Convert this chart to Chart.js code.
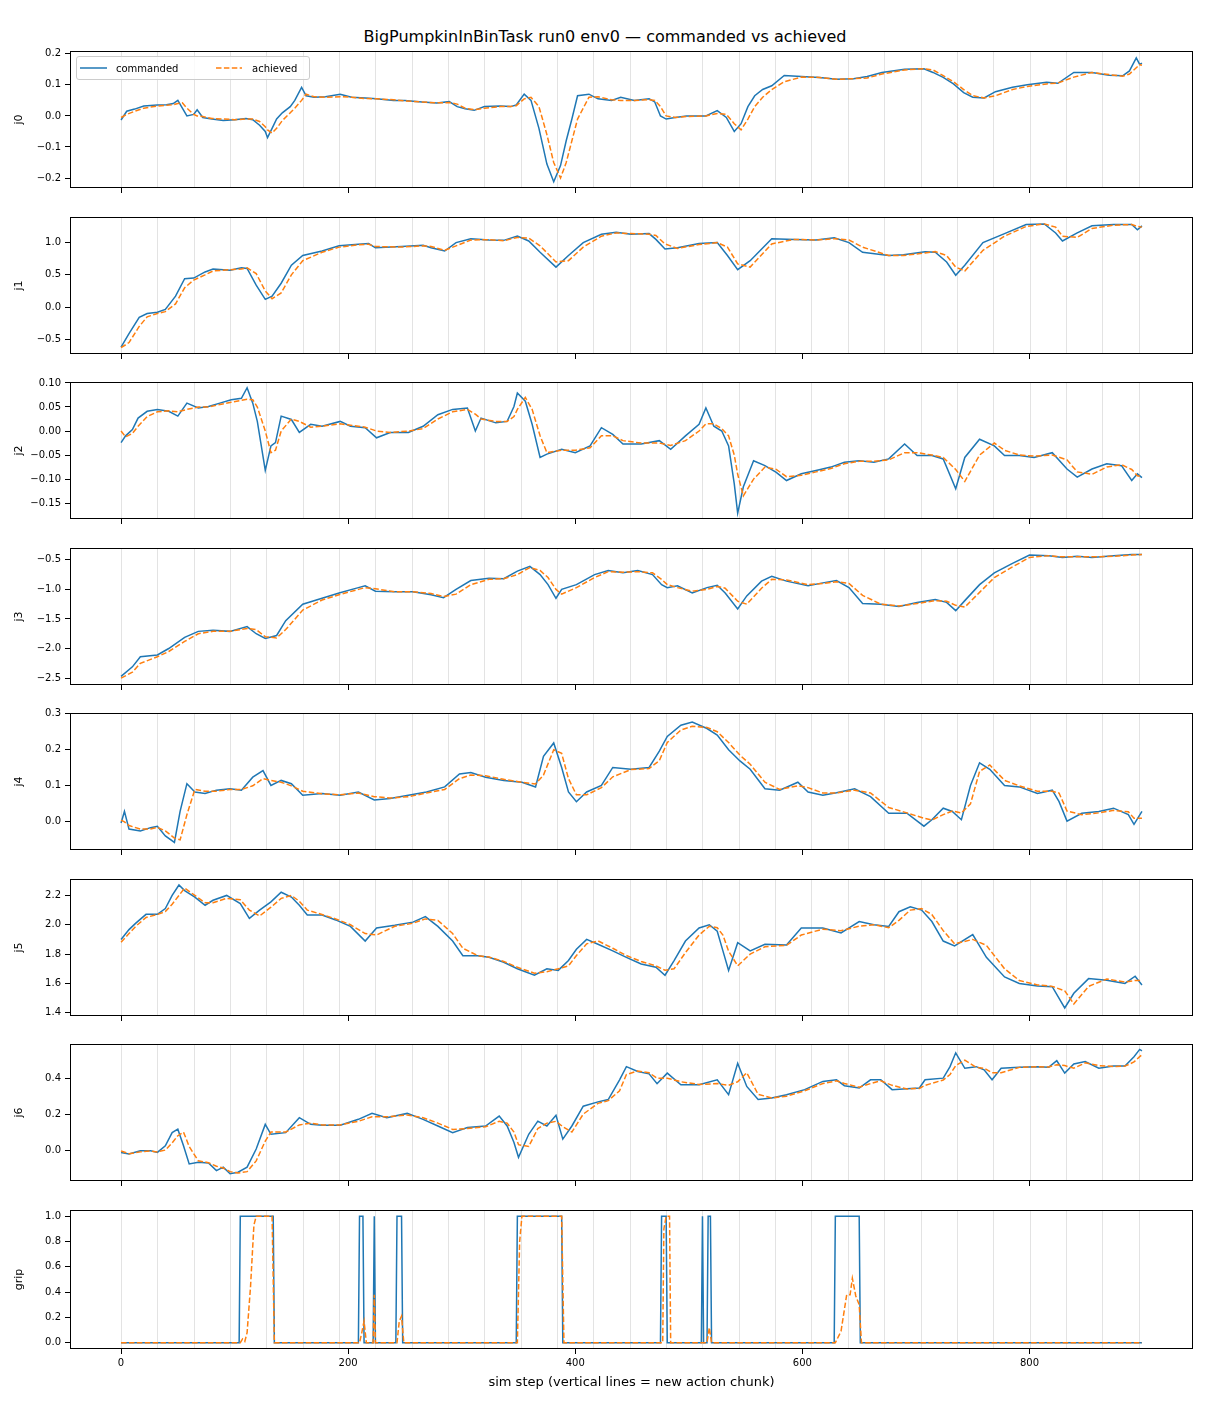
<!doctype html>
<html>
<head>
<meta charset="utf-8">
<title>BigPumpkinInBinTask run0 env0 — commanded vs achieved</title>
<script src="https://cdn.jsdelivr.net/npm/chart.js@4.4.1/dist/chart.umd.min.js"></script>
<style>
  body { margin: 0; background: #fff; width: 1210px; height: 1408px; position: relative; overflow: hidden; font-family: "DejaVu Sans", sans-serif; color: #000; }
  #title { position: absolute; top: 27px; left: 0; width: 1210px; text-align: center; font-size: 16px; line-height: 20px; }
  .panel { position: absolute; left: 0; width: 1210px; }
  .panel canvas { display: block; }
  #legend { position: absolute; left: 76px; top: 56px; width: 234px; height: 24px; box-sizing: border-box; border: 1px solid #cccccc; border-radius: 3px; background: rgba(255,255,255,0.8); z-index: 5; font-size: 10px; }
  #legend svg, #legend span { position: absolute; }
  #legend span { top: 5px; line-height: 13px; }
</style>
</head>
<body>
<div id="title">BigPumpkinInBinTask run0 env0 — commanded vs achieved</div>
<div id="legend">
  <svg style="left:3px;top:6px" width="28" height="10"><line x1="0" y1="5" x2="27" y2="5" stroke="#1f77b4" stroke-width="1.5"/></svg>
  <span style="left:39px">commanded</span>
  <svg style="left:139px;top:6px" width="28" height="10"><line x1="0" y1="5" x2="26" y2="5" stroke="#ff7f0e" stroke-width="1.5" stroke-dasharray="5.5,2.4"/></svg>
  <span style="left:175px">achieved</span>
</div>
<script>
// ---- data ----
const chunkStarts = [0,32,64,96,128,160,192,224,256,288,320,352,384,416,448,480,512,544,576,608,640,672,704,736,768,800,832,864,896];
const xTicks = [0,200,400,600,800];

const j0Steps = [0,5,12,20,32,40,46,50,54,58,64,67,72,80,90,100,110,116,122,127,129,133,137,142,149,153,159,163,170,180,193,203,215,225,240,250,265,278,289,296,303,311,320,334,343,348,355,361,368,375,381,387,392,397,402,412,420,432,440,452,465,470,475,480,488,498,515,525,533,540,546,552,558,565,573,584,599,615,630,645,657,670,690,707,715,724,733,742,750,760,770,785,798,815,825,839,855,870,882,888,894,897,899];
const j0Cmd = [-0.013,0.015,0.022,0.032,0.035,0.036,0.04,0.05,0.025,0.0,0.005,0.02,-0.005,-0.01,-0.015,-0.012,-0.008,-0.012,-0.03,-0.05,-0.07,-0.04,-0.01,0.01,0.03,0.05,0.092,0.065,0.06,0.062,0.07,0.06,0.058,0.055,0.05,0.05,0.045,0.042,0.046,0.03,0.023,0.018,0.03,0.032,0.03,0.035,0.07,0.05,-0.04,-0.155,-0.212,-0.16,-0.08,-0.01,0.065,0.07,0.055,0.05,0.06,0.05,0.055,0.045,0.0,-0.01,-0.005,0.0,0.0,0.017,-0.005,-0.05,-0.025,0.03,0.065,0.085,0.097,0.13,0.127,0.124,0.118,0.12,0.127,0.14,0.15,0.152,0.14,0.124,0.103,0.075,0.06,0.058,0.078,0.092,0.1,0.108,0.105,0.14,0.14,0.131,0.129,0.145,0.187,0.166,0.17];
const j0Ach = [-0.005,0.005,0.015,0.025,0.032,0.034,0.036,0.04,0.042,0.025,0.005,0.0,-0.002,-0.008,-0.01,-0.012,-0.01,-0.01,-0.018,-0.035,-0.045,-0.055,-0.04,-0.015,0.01,0.025,0.05,0.07,0.062,0.06,0.062,0.06,0.056,0.055,0.052,0.048,0.045,0.042,0.043,0.038,0.025,0.02,0.025,0.03,0.03,0.033,0.055,0.06,0.03,-0.06,-0.15,-0.2,-0.15,-0.08,-0.01,0.06,0.062,0.052,0.05,0.05,0.052,0.05,0.03,0.0,-0.005,-0.002,0.0,0.008,0.005,-0.025,-0.045,-0.01,0.03,0.06,0.085,0.11,0.125,0.124,0.118,0.12,0.122,0.135,0.148,0.152,0.148,0.13,0.11,0.085,0.065,0.058,0.065,0.085,0.095,0.103,0.106,0.125,0.14,0.133,0.128,0.135,0.155,0.165,0.163];

const j1Steps = [0,7,16,23,32,39,48,56,64,74,81,96,106,111,119,127,133,141,150,160,177,192,209,218,224,247,266,273,285,295,308,324,337,349,359,369,383,394,407,423,436,449,465,471,479,490,509,525,534,543,554,573,593,612,628,641,653,676,689,708,717,727,735,743,759,778,797,813,823,829,842,855,874,890,895,899];
const j1Cmd = [-0.62,-0.41,-0.16,-0.10,-0.08,-0.035,0.17,0.44,0.45,0.545,0.59,0.57,0.61,0.60,0.34,0.12,0.17,0.37,0.65,0.80,0.87,0.95,0.975,0.985,0.92,0.94,0.96,0.92,0.87,1.0,1.06,1.04,1.035,1.10,1.025,0.85,0.62,0.80,1.0,1.13,1.16,1.13,1.14,1.05,0.90,0.92,0.985,1.0,0.80,0.58,0.72,1.06,1.05,1.04,1.075,1.0,0.85,0.80,0.81,0.86,0.85,0.70,0.495,0.65,1.0,1.14,1.28,1.29,1.15,1.025,1.15,1.26,1.28,1.28,1.20,1.26];
const j1Ach = [-0.63,-0.55,-0.3,-0.15,-0.1,-0.07,0.05,0.3,0.42,0.5,0.56,0.58,0.59,0.61,0.52,0.25,0.13,0.22,0.5,0.72,0.85,0.93,0.965,0.975,0.94,0.93,0.95,0.94,0.88,0.95,1.04,1.045,1.03,1.08,1.07,0.95,0.70,0.72,0.93,1.1,1.15,1.14,1.13,1.11,0.98,0.91,0.97,1.0,0.93,0.67,0.62,0.98,1.05,1.04,1.06,1.04,0.93,0.80,0.80,0.84,0.86,0.80,0.62,0.56,0.88,1.10,1.25,1.29,1.24,1.1,1.08,1.22,1.27,1.28,1.25,1.24];

const j2Steps = [0,4,10,15,23,32,42,50,58,68,77,87,97,106,111,116,120,127,132,136,141,150,157,167,177,193,202,215,225,237,253,266,279,292,305,312,317,330,340,346,349,356,362,369,375,388,400,413,423,433,442,458,474,484,497,509,515,522,529,535,540,543,548,557,567,577,586,599,612,625,637,650,663,676,690,701,714,724,735,743,756,769,778,791,804,820,833,842,855,868,881,890,895,899];
const j2Cmd = [-0.024,-0.01,0.003,0.027,0.041,0.045,0.041,0.031,0.058,0.048,0.051,0.058,0.065,0.068,0.09,0.058,0.02,-0.082,-0.031,-0.024,0.031,0.024,-0.003,0.014,0.01,0.02,0.01,0.007,-0.014,-0.003,-0.003,0.01,0.034,0.045,0.048,0.0,0.027,0.017,0.02,0.051,0.079,0.062,0.014,-0.055,-0.048,-0.038,-0.045,-0.031,0.007,-0.007,-0.027,-0.027,-0.02,-0.038,-0.01,0.014,0.048,0.01,0.0,-0.031,-0.11,-0.171,-0.116,-0.062,-0.072,-0.086,-0.103,-0.089,-0.082,-0.075,-0.065,-0.062,-0.065,-0.058,-0.027,-0.051,-0.051,-0.058,-0.12,-0.055,-0.017,-0.031,-0.051,-0.051,-0.055,-0.045,-0.079,-0.096,-0.079,-0.068,-0.072,-0.103,-0.089,-0.097];
const j2Ach = [0.0,-0.012,-0.005,0.01,0.03,0.04,0.042,0.04,0.045,0.05,0.05,0.055,0.06,0.064,0.066,0.065,0.05,0.0,-0.045,-0.04,0.0,0.025,0.02,0.008,0.01,0.015,0.012,0.008,0.0,-0.003,0.0,0.005,0.025,0.04,0.045,0.035,0.025,0.02,0.02,0.03,0.045,0.07,0.045,-0.01,-0.045,-0.04,-0.04,-0.035,-0.01,-0.01,-0.02,-0.025,-0.025,-0.03,-0.02,0.0,0.015,0.015,0.005,-0.01,-0.05,-0.09,-0.135,-0.1,-0.075,-0.08,-0.095,-0.092,-0.085,-0.078,-0.068,-0.063,-0.063,-0.06,-0.045,-0.045,-0.05,-0.055,-0.08,-0.105,-0.05,-0.025,-0.04,-0.05,-0.052,-0.05,-0.06,-0.085,-0.09,-0.075,-0.07,-0.08,-0.093,-0.095];

const j3Steps = [0,10,17,32,42,56,68,81,96,111,119,127,137,145,160,177,192,209,215,224,241,257,273,284,295,308,324,337,349,360,369,376,383,388,401,417,429,442,455,468,476,481,490,503,516,525,532,543,551,564,573,586,605,618,630,641,653,669,685,701,717,727,735,743,756,769,785,800,817,829,842,855,874,890,899];
const j3Cmd = [-2.47,-2.31,-2.14,-2.11,-2.0,-1.81,-1.71,-1.69,-1.71,-1.63,-1.75,-1.83,-1.78,-1.53,-1.25,-1.15,-1.06,-0.97,-0.94,-1.03,-1.04,-1.04,-1.09,-1.14,-1.0,-0.85,-0.81,-0.82,-0.69,-0.61,-0.75,-0.92,-1.15,-1.0,-0.92,-0.75,-0.68,-0.72,-0.68,-0.75,-0.92,-0.97,-0.94,-1.06,-0.97,-0.93,-1.06,-1.33,-1.11,-0.86,-0.78,-0.86,-0.94,-0.89,-0.85,-0.97,-1.24,-1.25,-1.29,-1.22,-1.17,-1.22,-1.36,-1.19,-0.92,-0.72,-0.56,-0.42,-0.43,-0.46,-0.44,-0.46,-0.43,-0.41,-0.41];
const j3Ach = [-2.5,-2.4,-2.25,-2.14,-2.05,-1.88,-1.75,-1.71,-1.71,-1.66,-1.68,-1.8,-1.82,-1.68,-1.35,-1.18,-1.09,-1.0,-0.97,-0.99,-1.04,-1.04,-1.07,-1.12,-1.08,-0.92,-0.83,-0.82,-0.75,-0.63,-0.68,-0.8,-1.0,-1.08,-0.97,-0.8,-0.7,-0.71,-0.7,-0.72,-0.83,-0.92,-0.97,-1.03,-1.0,-0.95,-0.98,-1.2,-1.25,-0.98,-0.83,-0.84,-0.92,-0.9,-0.87,-0.9,-1.1,-1.25,-1.28,-1.24,-1.19,-1.2,-1.27,-1.3,-1.05,-0.8,-0.62,-0.46,-0.43,-0.45,-0.45,-0.45,-0.44,-0.42,-0.41];

const j4Steps = [0,3,7,17,26,32,39,47,52,58,65,74,84,96,106,116,125,132,141,150,160,177,193,209,223,237,253,269,285,298,308,321,337,353,365,372,381,388,394,401,410,423,433,449,465,474,481,493,503,516,525,535,545,554,567,580,596,605,618,630,646,660,676,692,707,714,724,732,740,748,756,765,778,791,807,820,826,833,846,861,874,887,892,899];
const j4Cmd = [-0.003,0.029,-0.02,-0.025,-0.016,-0.012,-0.039,-0.057,0.029,0.106,0.083,0.079,0.088,0.092,0.088,0.124,0.142,0.101,0.115,0.106,0.074,0.079,0.074,0.083,0.061,0.065,0.074,0.083,0.097,0.133,0.137,0.124,0.115,0.11,0.097,0.182,0.219,0.151,0.083,0.056,0.083,0.101,0.151,0.146,0.151,0.196,0.237,0.268,0.277,0.259,0.241,0.2,0.169,0.146,0.092,0.088,0.11,0.083,0.074,0.081,0.092,0.07,0.024,0.024,-0.012,0.006,0.038,0.029,0.006,0.101,0.164,0.146,0.101,0.097,0.079,0.088,0.056,0.002,0.024,0.029,0.038,0.02,-0.007,0.029];
const j4Ach = [0.005,0.0,-0.01,-0.02,-0.02,-0.015,-0.025,-0.045,-0.05,0.02,0.09,0.085,0.085,0.09,0.09,0.1,0.12,0.115,0.11,0.1,0.085,0.078,0.075,0.08,0.07,0.066,0.07,0.08,0.09,0.12,0.13,0.128,0.118,0.11,0.105,0.13,0.2,0.19,0.12,0.075,0.075,0.095,0.125,0.145,0.148,0.17,0.22,0.255,0.265,0.262,0.25,0.22,0.185,0.16,0.11,0.09,0.1,0.095,0.08,0.08,0.088,0.08,0.04,0.025,0.01,0.005,0.02,0.03,0.025,0.05,0.14,0.158,0.115,0.1,0.085,0.085,0.08,0.03,0.02,0.025,0.032,0.028,0.01,0.01];

const j5Steps = [0,7,13,22,32,39,45,51,56,65,74,81,93,105,113,122,132,141,150,157,164,177,189,202,215,225,241,257,268,279,292,301,314,324,337,349,364,375,385,394,401,410,420,433,445,458,471,479,487,497,509,518,525,530,535,543,554,567,586,599,618,634,650,663,676,685,695,705,714,724,734,750,762,778,791,807,820,831,839,852,868,884,893,899];
const j5Cmd = [1.90,1.967,2.011,2.071,2.071,2.111,2.2,2.271,2.233,2.189,2.133,2.167,2.2,2.144,2.044,2.1,2.156,2.222,2.189,2.133,2.067,2.067,2.033,1.989,1.889,1.978,1.996,2.018,2.056,1.989,1.889,1.789,1.789,1.778,1.744,1.7,1.656,1.7,1.689,1.756,1.833,1.9,1.867,1.822,1.778,1.733,1.711,1.656,1.756,1.889,1.978,2.0,1.956,1.822,1.689,1.878,1.822,1.867,1.862,1.978,1.978,1.944,2.022,2.0,1.989,2.089,2.122,2.1,2.022,1.889,1.856,1.933,1.778,1.644,1.6,1.582,1.578,1.433,1.533,1.633,1.622,1.6,1.649,1.589];
const j5Ach = [1.88,1.94,1.99,2.05,2.07,2.09,2.14,2.2,2.25,2.2,2.15,2.15,2.18,2.17,2.1,2.06,2.12,2.18,2.2,2.16,2.1,2.07,2.04,2.0,1.94,1.93,1.99,2.01,2.04,2.03,1.94,1.84,1.79,1.78,1.75,1.71,1.67,1.68,1.7,1.72,1.79,1.87,1.89,1.84,1.79,1.75,1.72,1.69,1.7,1.81,1.93,1.99,1.98,1.93,1.82,1.72,1.8,1.85,1.86,1.93,1.97,1.96,1.99,2.0,1.98,2.03,2.1,2.11,2.07,1.96,1.87,1.9,1.86,1.7,1.62,1.59,1.58,1.55,1.46,1.58,1.63,1.61,1.62,1.62];

const j6Steps = [0,7,17,26,32,39,45,50,55,60,68,77,84,90,96,103,111,119,127,132,145,157,167,177,193,209,221,234,252,266,279,292,305,321,333,340,346,350,359,367,375,383,389,397,407,420,429,439,445,455,465,472,481,493,509,525,535,543,551,561,573,586,602,618,630,637,650,660,669,679,692,703,708,724,730,735,743,753,760,767,775,791,807,817,824,831,839,849,861,874,884,892,897,899];
const j6Cmd = [-0.013,-0.022,-0.004,-0.004,-0.013,0.024,0.097,0.116,0.024,-0.077,-0.068,-0.072,-0.114,-0.095,-0.132,-0.123,-0.095,0.006,0.143,0.088,0.097,0.18,0.143,0.138,0.138,0.171,0.204,0.18,0.204,0.171,0.134,0.097,0.125,0.134,0.189,0.134,0.042,-0.04,0.088,0.161,0.134,0.193,0.061,0.134,0.244,0.268,0.281,0.391,0.464,0.437,0.424,0.369,0.428,0.363,0.363,0.391,0.308,0.483,0.354,0.281,0.29,0.308,0.336,0.382,0.391,0.358,0.345,0.391,0.391,0.336,0.341,0.345,0.391,0.4,0.464,0.541,0.455,0.464,0.446,0.391,0.455,0.461,0.464,0.461,0.497,0.428,0.479,0.492,0.455,0.468,0.468,0.519,0.56,0.552];
const j6Ach = [-0.005,-0.02,-0.01,-0.005,-0.01,0.0,0.04,0.08,0.1,0.02,-0.06,-0.07,-0.09,-0.1,-0.12,-0.128,-0.12,-0.06,0.05,0.1,0.1,0.14,0.15,0.14,0.14,0.16,0.185,0.185,0.195,0.18,0.15,0.115,0.12,0.13,0.16,0.15,0.1,0.03,0.02,0.12,0.15,0.16,0.13,0.1,0.2,0.26,0.275,0.33,0.42,0.44,0.43,0.4,0.4,0.38,0.365,0.37,0.36,0.38,0.43,0.31,0.29,0.3,0.33,0.37,0.385,0.37,0.35,0.37,0.385,0.36,0.34,0.343,0.36,0.39,0.42,0.47,0.5,0.46,0.455,0.43,0.43,0.46,0.463,0.462,0.475,0.47,0.455,0.485,0.47,0.465,0.467,0.49,0.52,0.53];

const gripCmdSteps = [0,104,105,134,135,209,210,213,214,222,223,224,242,243,247,248,348,349,388,389,475,476,480,481,511,512,513,516,517,519,520,628,629,650,651,899];
const gripCmd = [0,0,1,1,0,0,1,1,0,0,1,0,0,1,1,0,0,1,1,0,0,1,1,0,0,1,0,0,1,1,0,0,1,1,0,0];
const gripAchSteps = [0,105,107,109,111,114,117,119,133,135,210,212,214,216,222,223,224,243,245,247,249,349,351,353,388,390,477,478,480,483,484,516,518,520,629,634,639,642,644,647,650,652,899];
const gripAch = [0,0,0.03,0.01,0.08,0.44,0.93,1,1,0,0,0.08,0.17,0,0,0.38,0,0,0.17,0.21,0,0,0.8,1,1,0,0,0.9,1,1,0,0,0.12,0,0,0.09,0.38,0.38,0.51,0.37,0.3,0,0];

const panels = [
  { name: 'j0', cmdX: j0Steps, cmd: j0Cmd, achX: j0Steps, ach: j0Ach, range: [-0.232, 0.209], ticks: [-0.2,-0.1,0,0.1,0.2], labels: ['\u22120.2','\u22120.1','0.0','0.1','0.2'] },
  { name: 'j1', cmdX: j1Steps, cmd: j1Cmd, achX: j1Steps, ach: j1Ach, range: [-0.727, 1.397], ticks: [-0.5,0,0.5,1.0], labels: ['\u22120.5','0.0','0.5','1.0'] },
  { name: 'j2', cmdX: j2Steps, cmd: j2Cmd, achX: j2Steps, ach: j2Ach, range: [-0.183, 0.102], ticks: [-0.15,-0.1,-0.05,0,0.05,0.1], labels: ['\u22120.15','\u22120.10','\u22120.05','0.00','0.05','0.10'] },
  { name: 'j3', cmdX: j3Steps, cmd: j3Cmd, achX: j3Steps, ach: j3Ach, range: [-2.617, -0.3], ticks: [-2.5,-2.0,-1.5,-1.0,-0.5], labels: ['\u22122.5','\u22122.0','\u22121.5','\u22121.0','\u22120.5'] },
  { name: 'j4', cmdX: j4Steps, cmd: j4Cmd, achX: j4Steps, ach: j4Ach, range: [-0.078, 0.302], ticks: [0,0.1,0.2,0.3], labels: ['0.0','0.1','0.2','0.3'] },
  { name: 'j5', cmdX: j5Steps, cmd: j5Cmd, achX: j5Steps, ach: j5Ach, range: [1.378, 2.312], ticks: [1.4,1.6,1.8,2.0,2.2], labels: ['1.4','1.6','1.8','2.0','2.2'] },
  { name: 'j6', cmdX: j6Steps, cmd: j6Cmd, achX: j6Steps, ach: j6Ach, range: [-0.172, 0.59], ticks: [0,0.2,0.4], labels: ['0.0','0.2','0.4'] },
  { name: 'grip', cmdX: gripCmdSteps, cmd: gripCmd, achX: gripAchSteps, ach: gripAch, range: [-0.05, 1.05], ticks: [0,0.2,0.4,0.6,0.8,1.0], labels: ['0.0','0.2','0.4','0.6','0.8','1.0'] }
];

// ---- layout ----
const panelTops = [51, 217, 382, 548, 713, 879, 1044, 1210];
const plotH = 139;

Chart.defaults.font.family = '"DejaVu Sans", sans-serif';
Chart.defaults.color = '#000';

function pts(xs, ys) {
  return xs.map((x, i) => ({ x: x, y: ys[i] }));
}

const chunkLines = {
  id: 'chunkLines',
  beforeDatasetsDraw(chart) {
    const ctx = chart.ctx, a = chart.chartArea, xs = chart.scales.x;
    ctx.save();
    ctx.strokeStyle = 'rgba(128,128,128,0.28)';
    ctx.lineWidth = 0.8;
    chunkStarts.forEach(c => {
      const px = Math.round(xs.getPixelForValue(c)) + 0.5;
      ctx.beginPath();
      ctx.moveTo(px, a.top);
      ctx.lineTo(px, a.bottom);
      ctx.stroke();
    });
    ctx.restore();
  }
};

const frame = {
  id: 'frame',
  afterDraw(chart) {
    const ctx = chart.ctx, a = chart.chartArea;
    ctx.save();
    ctx.strokeStyle = '#000';
    ctx.lineWidth = 1;
    ctx.strokeRect(a.left + 0.5, a.top + 0.5, a.right - a.left - 1, a.bottom - a.top - 1);
    ctx.restore();
  }
};

panels.forEach((p, i) => {
  const last = i === panels.length - 1;
  const axisH = last ? 45 : 8;
  let h = plotH + axisH + 10;

  const div = document.createElement('div');
  div.className = 'panel';
  div.style.top = panelTops[i] + 'px';
  const cv = document.createElement('canvas');
  cv.width = 1210;
  cv.height = h;
  div.appendChild(cv);
  document.body.appendChild(div);

  const chart = new Chart(cv, {
    type: 'line',
    data: {
      datasets: [
        { label: 'achieved', data: pts(p.achX, p.ach), borderColor: '#ff7f0e', borderWidth: 1.5, borderDash: [5.5, 2.4], pointRadius: 0, tension: 0, order: 0 },
        { label: 'commanded', data: pts(p.cmdX, p.cmd), borderColor: '#1f77b4', borderWidth: 1.5, pointRadius: 0, tension: 0, order: 1 }
      ]
    },
    options: {
      responsive: false,
      animation: false,
      events: [],
      layout: { padding: { top: 2, right: 17, left: 0, bottom: 0 } },
      plugins: { legend: { display: false }, tooltip: { enabled: false } },
      scales: {
        x: {
          type: 'linear',
          min: -44.95,
          max: 943.95,
          afterBuildTicks: s => { s.ticks = xTicks.map(v => ({ value: v })); },
          afterFit: s => { s.height = axisH; },
          grid: { drawOnChartArea: false, drawTicks: true, tickLength: 5, color: '#000' },
          border: { display: false },
          ticks: { display: last, padding: 3, color: '#000', font: { size: 10 }, maxRotation: 0, autoSkip: false },
          title: { display: last, text: 'sim step (vertical lines = new action chunk)', color: '#000', font: { size: 13 }, padding: { top: 0, bottom: 4 } }
        },
        y: {
          min: p.range[0],
          max: p.range[1],
          afterBuildTicks: s => { s.ticks = p.ticks.map(v => ({ value: v })); },
          afterFit: s => { s.width = 70; },
          grid: { drawOnChartArea: false, drawTicks: true, tickLength: 5, color: '#000' },
          border: { display: false },
          ticks: { padding: 4, color: '#000', font: { size: 10 }, autoSkip: false, callback: (v, idx) => p.labels[idx] },
          title: { display: true, text: p.name, color: '#000', font: { size: 11 }, padding: { top: 13, bottom: 0 } }
        }
      }
    },
    plugins: [chunkLines, frame]
  });

  // fit the canvas so the plot box is exactly plotH tall and sits at panelTops[i]
  const top = chart.chartArea.top;
  h = Math.round(top + plotH + axisH);
  chart.resize(1210, h);
  div.style.top = (panelTops[i] - chart.chartArea.top) + 'px';
  div.style.height = h + 'px';
});
</script>
</body>
</html>
